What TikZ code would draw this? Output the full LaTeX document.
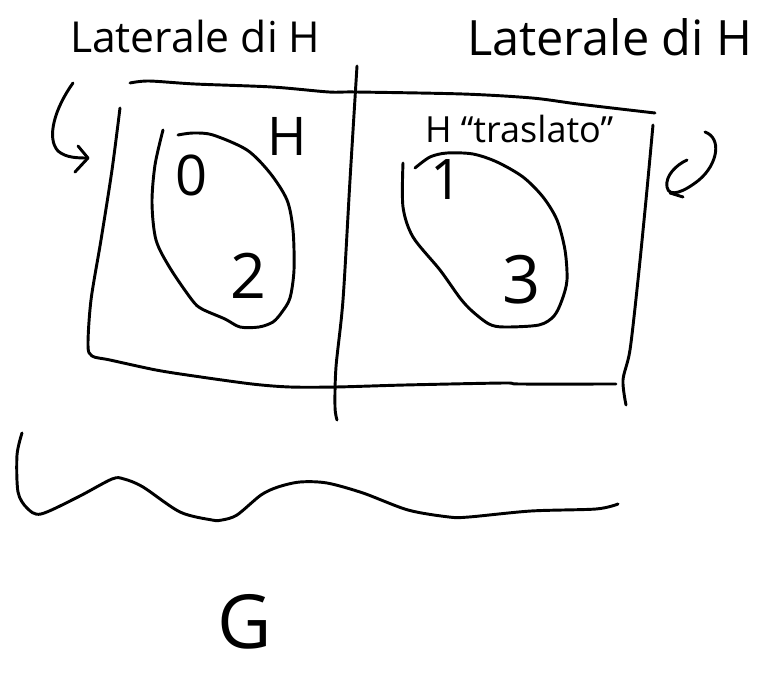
\documentclass[tikz,border=0pt]{standalone}
\usepackage{fontspec}
\setmainfont{Open Sans}
\begin{document}
\begin{tikzpicture}[x=0.75pt,y=-0.75pt,
  pen/.style={line width=2.2pt, line cap=round, line join=round},
  lbl/.style={inner sep=0pt, outer sep=0pt}]
\useasboundingbox (0,0) rectangle (758,674);
% titles
\node[lbl, anchor=base west, font=\fontsize{32}{35}\selectfont] (t1) at (70,53) {Laterale di H};
\node[lbl, anchor=base west, font=\fontsize{36.5}{40}\selectfont] (t2) at (467,56) {Laterale di H};
% frame
\draw[pen] plot[smooth] coordinates {(130,83) (149,81) (195,84) (272,87) (329,92) (356,92) (463,94) (532,98) (578,104) (655,113)};
\draw[pen] plot[smooth] coordinates {(120,108) (112,170) (101,240) (91,300) (88,345) (92,356) (110,360) (156,370) (194,376) (252,384) (290,387) (336,387) (405,385) (504,383) (520,384) (616,384)};
\draw[pen] plot[smooth] coordinates {(357,66) (350,180) (343,300) (336,367) (335,407) (337,420)};
\draw[pen] plot[smooth] coordinates {(653,125) (646,200) (638,280) (630,350) (623,380) (626,405)};
% left oval H
\draw[pen] plot[smooth] coordinates {(163,130) (155,165) (152,203) (156,240) (170,268) (192,300) (202,309) (225,319) (240,327) (259,327) (273,322) (282,312) (290,298) (294,270) (293,230) (287,200) (270,173) (247,150) (213,135) (193,133) (178,135)};
\node[lbl, font=\fontsize{40}{44}\selectfont] (hl) at (287,136) {H};
\node[lbl, font=\fontsize{42}{46}\selectfont] (n0) at (192,175) {0};
\node[lbl, font=\fontsize{47}{50}\selectfont] (n2) at (248,276) {2};
% right oval
\draw[pen] plot[smooth] coordinates {(403,163) (403,207) (413,237) (440,270) (460,298) (472,311) (489,324) (504,327) (539,325) (554,316) (562,300) (567,280) (565,250) (557,220) (543,197) (523,177) (497,162) (473,154) (447,153) (430,157) (415,168)};
\node[lbl, anchor=base west, font=\fontsize{27}{30}\selectfont] (hr) at (425,143) {H “traslato”};
\node[lbl, font=\fontsize{42}{46}\selectfont] (n1) at (447,180) {1};
\node[lbl, font=\fontsize{50}{54}\selectfont] (n3) at (522,280) {3};
% left curved arrow
\coordinate (la0) at (73,83);
\coordinate (la1) at (88,158);
\draw[pen] (la0) .. controls (55,108) and (46,138) .. (58,151) .. controls (66,158) and (78,158) .. (la1);
\draw[pen] (78,146) -- (la1) -- (75,172);
% right curl
\coordinate (rc0) at (705,132);
\draw[pen] (rc0) .. controls (722,138) and (718,164) .. (699,180) .. controls (684,192) and (669,198) .. (667,187) .. controls (665,176) and (676,165) .. (687,160);
\draw[pen] (670,193) -- (683,197);
% bottom wave
\draw[pen] plot[smooth] coordinates {(22,433) (17,455) (18,492) (27,508) (41,514) (78,497) (112,479) (124,479) (143,487) (180,512) (212,520) (222,520) (237,515) (261,495) (278,487) (300,482) (327,483) (363,493) (408,510) (449,517) (469,517) (531,511) (596,509) (618,504)};
% G
\node[lbl, font=\fontsize{56}{60}\selectfont] (g) at (245,622) {G};
\end{tikzpicture}
\end{document}
